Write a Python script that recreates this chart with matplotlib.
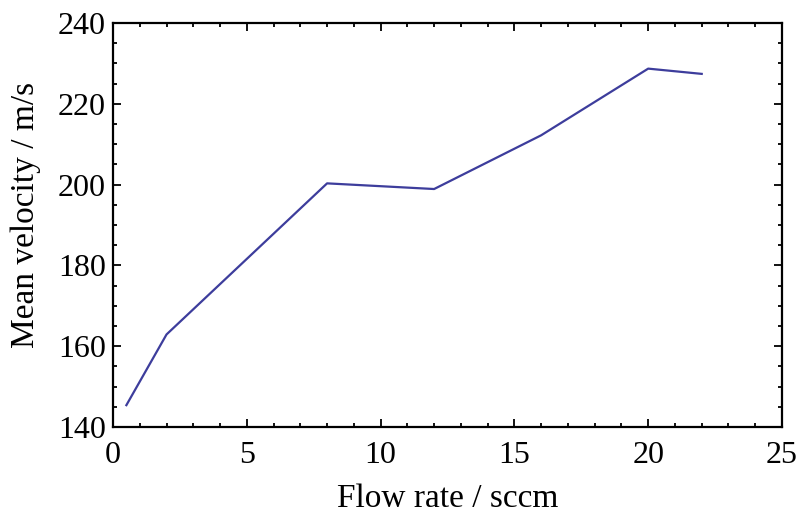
import matplotlib
matplotlib.use('Agg')

import matplotlib.pyplot as plt
from matplotlib.ticker import MultipleLocator

# data
flow_rate = [0.5, 2, 8, 12, 16, 20, 22]
mean_velocity = [145.4, 162.9, 200.3, 198.9, 212.2, 228.7, 227.4]

plt.rcParams['font.family'] = ['Liberation Serif', 'DejaVu Serif']

fig = plt.figure(figsize=(8, 5.14), dpi=100, facecolor='white')
ax = fig.add_axes([0.14125, 0.1693, 0.83625, 0.786])

ax.plot(flow_rate, mean_velocity, color='#3d3d9c', linewidth=1.6)

ax.set_xlim(0, 25)
ax.set_ylim(140, 240)
ax.xaxis.set_major_locator(MultipleLocator(5))
ax.xaxis.set_minor_locator(MultipleLocator(1))
ax.yaxis.set_major_locator(MultipleLocator(20))
ax.yaxis.set_minor_locator(MultipleLocator(5))

for s in ax.spines.values():
    s.set_linewidth(1.6)

ax.tick_params(which='both', direction='in', top=True, right=True, width=1.3)
ax.tick_params(which='major', length=6, labelsize=23)
ax.tick_params(which='minor', length=3)
ax.tick_params(axis='x', which='major', pad=10)
ax.tick_params(axis='y', which='major', pad=5)

ax.set_xlabel('Flow rate / sccm', fontsize=24, labelpad=10)
ax.set_ylabel('Mean velocity / m/s', fontsize=24, labelpad=12)
ax.yaxis.label.set_y(0.525)

plt.savefig('out.png', dpi=100, facecolor='white')
plt.close(fig)
